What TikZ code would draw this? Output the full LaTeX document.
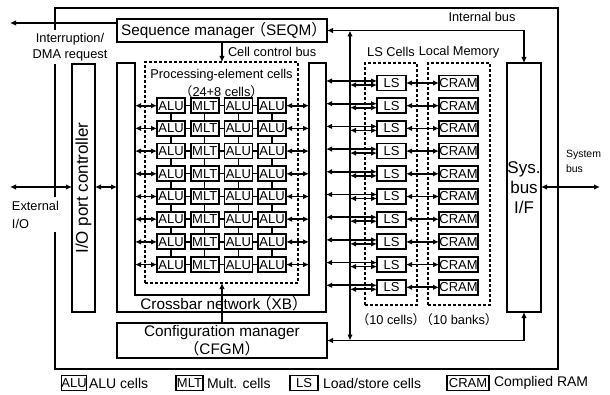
\documentclass[tikz,border=0pt]{standalone}
\usepackage{fontspec}
\setmainfont{Liberation Sans}
\newfontfamily\cjk{Noto Sans CJK JP}
\usetikzlibrary{arrows.meta}
\newcommand\fwl{\kern-0.25em{\cjk （}}
\newcommand\fwr{{\cjk ）}\kern-0.25em}
\begin{document}
\begin{tikzpicture}[x=1pt,y=-1pt,
  every node/.style={inner sep=0pt, outer sep=0pt},
  box/.style={draw, line width=2pt, fill=white},
  cell/.style={draw, line width=1.8pt, fill=white, minimum height=15, font=\fontsize{13}{14}\selectfont},
  dbox/.style={draw, line width=1.4pt, dash pattern=on 3pt off 2pt},
  dbl/.style={line width=1.7pt, {Latex[length=6pt,width=5.5pt]}-{Latex[length=6pt,width=5.5pt]}},
  sgl/.style={line width=1.7pt, -{Latex[length=6pt,width=5.5pt]}},
  conn/.style={line width=1.4pt},
  lab/.style={font=\fontsize{12.8}{15}\selectfont},
  big/.style={font=\fontsize{15.3}{17}\selectfont}]
\useasboundingbox (0,0) rectangle (610,395);

% outer frame
\node[draw, line width=2.5pt, minimum width=503, minimum height=361] (outer) at (306.5,188.5) {};
\node[lab, fill=white, inner sep=3pt, align=center, font=\fontsize{12.8}{16}\selectfont] (irql) at (70,47) {Interruption/\\DMA request};
\node[lab, fill=white, inner xsep=3pt, inner ysep=4pt, align=left, anchor=north west, font=\fontsize{12.8}{18}\selectfont] (extl) at (9,197) {External\\I/O};

% main blocks
\node[box, minimum width=210, minimum height=23, big] (seqm) at (222,30.5) {Sequence manager\fwl SEQM\fwr};
\node[box, minimum width=210, minimum height=35, align=center, font=\fontsize{15.3}{18}\selectfont] (cfgm) at (222,340.5) {Configuration manager\\\fwl CFGM\fwr};
\node[box, minimum width=23, minimum height=248] (iop) at (83.5,188) {};
\node[rotate=90, font=\fontsize{17}{20}\selectfont] (iopt) at (iop) {I/O port controller};
\node[box, minimum width=34, minimum height=249, align=center, font=\fontsize{17}{20}\selectfont] (sys) at (524,187.5) {Sys.\\bus\\I/F};

% crossbar U shape
\node[minimum width=209, minimum height=249] (xb) at (221.5,187.5) {};
\node[minimum width=174, minimum height=232] (xbin) at (222,179) {};
\draw[line width=2pt] (xb.north west) -- (xb.south west) -- (xb.south east) -- (xb.north east)
  -- (xbin.north east) -- (xbin.south east) -- (xbin.south west) -- (xbin.north west) -- cycle;
\node[big] (xbl) at (222,303.5) {Crossbar network\fwl XB\fwr};

% dashed groups
\node[dbox, minimum width=153, minimum height=221] (pe) at (221.5,172.5) {};
\node[lab] (pel1) at (221.5,75) {Processing-element cells};
\node[lab] (pel2) at (221.5,92) {\fwl 24+8 cells\fwr};
\node[dbox, minimum width=52, minimum height=242] (lsd) at (391,184) {};
\node[dbox, minimum width=62, minimum height=242] (memd) at (459,184) {};
\node[lab] (lsl) at (391,52) {LS Cells};
\node[lab] (meml) at (459,52) {Local Memory};
\node[lab] (lsl2) at (391,320) {\fwl 10 cells\fwr};
\node[lab] (meml2) at (459,320) {\fwl 10 banks\fwr};

% labels
\node[lab] (ibl) at (482,17) {Internal bus};
\node[lab, anchor=west] (ccl) at (228,52) {Cell control bus};
\node[align=left, anchor=north west, font=\fontsize{10.5}{15}\selectfont] (sbl) at (566,150) {System\\bus};

% buses
\coordinate (bt) at (350,30.5);
\coordinate (bb) at (350,340.5);
\coordinate (irq) at (10,23);
\coordinate (ext) at (10,187);
\coordinate (sysb) at (600,187);
\draw[dbl] (seqm.east) -| (sys.north);
\draw[dbl] (cfgm.east) -| (sys.south);
\draw[dbl] (bt) -- (bb);
\draw[sgl] (seqm.west |- irq) -- (irq);
\draw[sgl] (seqm.south) -- (seqm.south |- pe.north);
\draw[sgl] (cfgm.north) -- (cfgm.north |- pe.south);
\draw[dbl] (ext) -- (iop.west |- ext);
\draw[dbl] (iop.east |- ext) -- (xb.west |- ext);
\draw[dbl] (sys.east |- sysb) -- (sysb);

% processing element array
\foreach \r in {1,...,8} {
  \pgfmathsetmacro\yy{83+22.7*\r}
  \foreach \c/\t in {1/ALU,2/MLT,3/ALU,4/ALU} {
    \pgfmathsetmacro\xx{171+33.7*(\c-1)}
    \node[cell, minimum width=28] (p\r\c) at (\xx,\yy) {\t};
  }
  \draw[conn] (p\r1) -- (p\r2);
  \draw[conn] (p\r2) -- (p\r3);
  \draw[conn] (p\r3) -- (p\r4);
  \draw[dbl] (xbin.west |- p\r1.west) -- (p\r1.west);
  \draw[dbl] (p\r4.east) -- (xbin.east |- p\r4.east);
}
\foreach \r [evaluate=\r as \rn using int(\r+1)] in {1,...,7} {
  \foreach \c in {1,...,4} {
    \draw[conn] (p\r\c) -- (p\rn\c);
  }
}

% LS cells and CRAM
\foreach \i in {0,...,9} {
  \pgfmathsetmacro\yy{83+22.7*\i}
  \pgfmathsetmacro\yu{\yy-2}
  \pgfmathsetmacro\yl{\yy+2}
  \node[cell, minimum width=29] (ls\i) at (391.5,\yy) {LS};
  \node[cell, minimum width=39] (cr\i) at (458.5,\yy) {CRAM};
  \draw[dbl] (ls\i) -- (cr\i);
  \draw[dbl] (xb.east |- 0,\yu) -- (ls\i.west |- 0,\yu);
  \draw[dbl] (bt |- 0,\yl) -- (ls\i.west |- 0,\yl);
}

% legend
\node[cell, line width=1.3pt, minimum width=22] (lg1) at (74,383) {ALU};
\node[anchor=west, font=\fontsize{14}{16}\selectfont] (lt1) at (89,383) {ALU cells};
\node[cell, line width=1.3pt, minimum width=27] (lg2) at (189.5,383) {MLT};
\node[anchor=west, font=\fontsize{14}{16}\selectfont] (lt2) at (207,383) {Mult. cells};
\node[cell, line width=1.3pt, minimum width=28] (lg3) at (304,383) {LS};
\node[anchor=west, font=\fontsize{14}{16}\selectfont] (lt3) at (323,383) {Load/store cells};
\node[cell, line width=1.3pt, minimum width=42] (lg4) at (468,383) {CRAM};
\node[anchor=west, font=\fontsize{14}{16}\selectfont] (lt4) at (494,383) {Complied RAM};
\end{tikzpicture}
\end{document}
